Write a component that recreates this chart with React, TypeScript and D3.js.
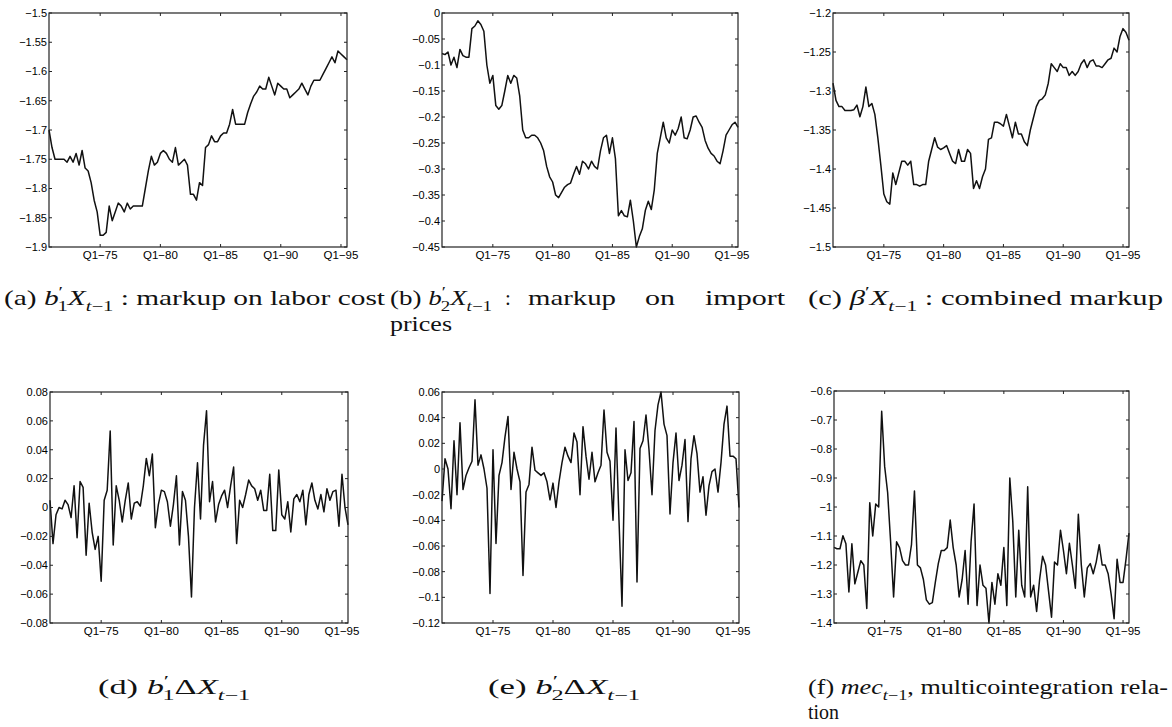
import React, { useEffect, useRef } from 'react';
import * as d3 from 'd3';

// quarterly sample, Q4-1970 .. Q3-1995
const START = 1970.75;
const STEP = 0.25;

const xTickYears = [1975, 1980, 1985, 1990, 1995];
const xTickLabels = ['Q1−75', 'Q1−80', 'Q1−85', 'Q1−90', 'Q1−95'];

// (a) b1'X(t-1): markup on labor cost
const laborMarkup = [
  -1.70, -1.73, -1.75, -1.75, -1.75, -1.75, -1.755, -1.745, -1.755, -1.74,
  -1.76, -1.735, -1.765, -1.77, -1.79, -1.82, -1.84, -1.88, -1.88, -1.875,
  -1.83, -1.855, -1.84, -1.825, -1.83, -1.84, -1.825, -1.835, -1.83, -1.83,
  -1.83, -1.83, -1.80, -1.77, -1.745, -1.76, -1.755, -1.74, -1.735, -1.74,
  -1.75, -1.755, -1.73, -1.76, -1.755, -1.75, -1.76, -1.81, -1.81, -1.82,
  -1.79, -1.795, -1.73, -1.725, -1.71, -1.72, -1.72, -1.71, -1.705, -1.705,
  -1.69, -1.665, -1.69, -1.69, -1.69, -1.69, -1.67, -1.655, -1.642, -1.635,
  -1.625, -1.63, -1.63, -1.61, -1.625, -1.64, -1.62, -1.625, -1.63, -1.63,
  -1.645, -1.64, -1.635, -1.63, -1.62, -1.63, -1.64, -1.625, -1.615, -1.615,
  -1.615, -1.605, -1.595, -1.585, -1.575, -1.585, -1.565, -1.57, -1.575, -1.58,
];

// (b) b2'X(t-1): markup on import prices
const importMarkup = [
  -0.078, -0.08, -0.075, -0.10, -0.085, -0.105, -0.07, -0.082, -0.085, -0.085,
  -0.03, -0.025, -0.015, -0.022, -0.035, -0.10, -0.135, -0.12, -0.178, -0.185,
  -0.178, -0.15, -0.12, -0.135, -0.12, -0.125, -0.16, -0.225, -0.24, -0.24,
  -0.235, -0.235, -0.24, -0.25, -0.265, -0.295, -0.315, -0.325, -0.35, -0.355,
  -0.345, -0.335, -0.33, -0.327, -0.31, -0.295, -0.31, -0.285, -0.29, -0.30,
  -0.285, -0.295, -0.30, -0.265, -0.24, -0.235, -0.27, -0.24, -0.28, -0.39,
  -0.38, -0.39, -0.392, -0.36, -0.40, -0.45, -0.43, -0.415, -0.38, -0.362,
  -0.378, -0.34, -0.27, -0.24, -0.21, -0.24, -0.25, -0.225, -0.235, -0.222,
  -0.20, -0.24, -0.242, -0.225, -0.20, -0.198, -0.21, -0.22, -0.245, -0.26,
  -0.27, -0.275, -0.285, -0.29, -0.265, -0.235, -0.225, -0.215, -0.21, -0.22,
];

// (c) beta'X(t-1): combined markup
const combinedMarkup = [
  -1.29, -1.312, -1.32, -1.32, -1.325, -1.325, -1.325, -1.324, -1.318, -1.333,
  -1.32, -1.295, -1.32, -1.316, -1.33, -1.36, -1.395, -1.432, -1.442, -1.445,
  -1.405, -1.42, -1.405, -1.39, -1.39, -1.395, -1.39, -1.42, -1.42, -1.422,
  -1.42, -1.42, -1.39, -1.375, -1.36, -1.372, -1.375, -1.373, -1.37, -1.38,
  -1.39, -1.393, -1.375, -1.39, -1.39, -1.375, -1.38, -1.425, -1.415, -1.425,
  -1.41, -1.40, -1.362, -1.36, -1.34, -1.34, -1.342, -1.345, -1.33, -1.345,
  -1.36, -1.34, -1.355, -1.355, -1.365, -1.37, -1.35, -1.335, -1.32, -1.312,
  -1.31, -1.305, -1.29, -1.265, -1.27, -1.275, -1.265, -1.27, -1.27, -1.28,
  -1.275, -1.28, -1.275, -1.265, -1.26, -1.27, -1.262, -1.26, -1.268, -1.268,
  -1.27, -1.265, -1.26, -1.258, -1.245, -1.25, -1.23, -1.22, -1.225, -1.235,
];

// (d) b1' dX(t-1)
const laborDiff = [
  0.005, -0.025, -0.005, 0, -0.001, 0.005, 0.002, -0.007, 0.015, -0.021,
  0.018, 0.014, -0.033, 0.003, -0.017, -0.029, -0.02, -0.051, 0.005, 0.012,
  0.053, -0.026, 0.015, 0.005, -0.01, 0.005, 0.017, -0.008, 0.003, 0.004,
  0.001, 0.015, 0.034, 0.022, 0.037, -0.014, 0.002, 0.012, 0.011, 0.004,
  -0.013, 0.002, 0.022, -0.026, 0.011, 0.005, -0.02, -0.062, 0.0, 0.031,
  -0.008, 0.043, 0.067, 0.004, 0.018, -0.01, 0.002, 0.008, 0.012, 0,
  0.015, 0.028, -0.025, 0.005, 0.0, 0.009, 0.019, 0.015, 0.013, 0.005,
  0.012, -0.002, -0.002, 0.023, -0.016, -0.016, 0.026, -0.005, -0.008, 0.004,
  -0.017, 0.006, 0.009, 0.004, 0.012, -0.012, 0.009, 0.017, 0.005, -0.001,
  0.009, -0.003, 0.013, 0.005, 0.011, 0.012, -0.013, 0.023, 0.0, -0.012,
];

// (e) b2' dX(t-1)
const importDiff = [
  -0.025, 0.008, 0.0, -0.031, 0.022, -0.02, 0.036, -0.016, -0.005, 0.001,
  0.006, 0.054, 0.003, 0.011, 0.0, -0.015, -0.097, 0.015, -0.058, -0.005,
  0.005, 0.025, 0.041, -0.016, 0.013, 0.0, -0.01, -0.083, -0.018, -0.012,
  0.017, -0.001, -0.003, -0.005, -0.003, -0.01, -0.024, -0.011, -0.03, -0.01,
  0.005, 0.017, 0.01, 0.005, 0.028, 0.021, -0.02, 0.033, 0.01, -0.008,
  0.013, -0.01, -0.003, 0.003, 0.046, 0.013, 0.006, -0.04, 0.032, -0.04,
  -0.107, 0.015, -0.009, -0.003, 0.037, -0.088, 0.016, 0.022, 0.042, 0.015,
  -0.02, 0.03, 0.05, 0.06, 0.035, 0.026, -0.035, 0.005, 0.028, -0.009,
  0.003, 0.023, -0.041, 0.008, 0.026, 0.012, -0.018, -0.006, -0.036, -0.013,
  -0.002, 0.0, -0.018, 0.005, 0.035, 0.049, 0.01, 0.01, 0.008, -0.03,
];

// (f) mec(t-1), multicointegration relation
const mecRelation = [
  -1.139, -1.144, -1.144, -1.099, -1.127, -1.293, -1.127, -1.265, -1.225, -1.185,
  -1.2, -1.35, -0.985, -1.1, -0.99, -1.0, -0.67, -0.86, -0.95, -1.12,
  -1.31, -1.12, -1.14, -1.185, -1.2, -1.2, -1.13, -0.945, -1.2, -1.21,
  -1.25, -1.32, -1.335, -1.33, -1.26, -1.195, -1.15, -1.15, -1.14, -1.045,
  -1.14, -1.2, -1.31, -1.25, -1.15, -1.335, -1.12, -0.99, -1.34, -1.2,
  -1.27, -1.28, -1.4, -1.26, -1.335, -1.23, -1.27, -1.14, -1.34, -0.9,
  -1.05, -1.31, -1.08, -1.27, -1.31, -0.93, -1.31, -1.27, -1.36, -1.25,
  -1.17, -1.2, -1.29, -1.38, -1.19, -1.2, -1.08, -1.15, -1.23, -1.125,
  -1.2, -1.28, -1.025, -1.2, -1.31, -1.21, -1.195, -1.23, -1.19, -1.13,
  -1.2, -1.2, -1.23, -1.3, -1.385, -1.18, -1.26, -1.26, -1.18, -1.09,
];

const yTicksA = [-1.9, -1.85, -1.8, -1.75, -1.7, -1.65, -1.6, -1.55, -1.5];
const yTicksB = [-0.45, -0.4, -0.35, -0.3, -0.25, -0.2, -0.15, -0.1, -0.05, 0];
const yTicksC = [-1.5, -1.45, -1.4, -1.35, -1.3, -1.25, -1.2];
const yTicksD = [-0.08, -0.06, -0.04, -0.02, 0, 0.02, 0.04, 0.06, 0.08];
const yTicksE = [-0.12, -0.1, -0.08, -0.06, -0.04, -0.02, 0, 0.02, 0.04, 0.06];
const yTicksF = [-1.4, -1.3, -1.2, -1.1, -1, -0.9, -0.8, -0.7, -0.6];

const panels = [
  { data: laborMarkup, ticks: yTicksA, x: 49, y: 13, w: 298, h: 234 },
  { data: importMarkup, ticks: yTicksB, x: 442, y: 13, w: 296, h: 234 },
  { data: combinedMarkup, ticks: yTicksC, x: 833, y: 13, w: 296, h: 234 },
  { data: laborDiff, ticks: yTicksD, x: 50, y: 392, w: 298, h: 231 },
  { data: importDiff, ticks: yTicksE, x: 442, y: 392, w: 297, h: 231 },
  { data: mecRelation, ticks: yTicksF, x: 834, y: 391, w: 295, h: 232 },
];

const fmt = (v: number) => (Math.abs(v) < 1e-9 ? '0' : String(+v.toFixed(3)).replace('-', '−'));

const SERIF = "'Liberation Serif', 'Times New Roman', 'DejaVu Serif Condensed', 'DejaVu Serif', serif";
const SANS = "'Liberation Sans', Arial, Helvetica, sans-serif";
const FS = 21;

type Seg = { t: string; it?: boolean; lv?: number; dx?: number };

const Caption = ({ x, y, segs, len }: { x: number; y: number; segs: Seg[]; len?: number }) => {
  let prev = 0;
  return (
    <text
      x={x}
      y={y}
      fontSize={FS}
      fill="#111"
      textLength={len}
      lengthAdjust={len ? 'spacingAndGlyphs' : undefined}
      style={{ whiteSpace: 'pre', fontFamily: SERIF }}
    >
      {segs.map((s, i) => {
        const off = s.lv === -1 ? FS * 0.28 : s.lv === 1 ? -FS * 0.36 : 0;
        const dy = off - prev;
        prev = off;
        return (
          <tspan key={i} dy={dy || undefined} dx={s.dx} fontStyle={s.it ? 'italic' : undefined} fontSize={s.lv ? FS * 0.7 : undefined}>
            {s.t}
          </tspan>
        );
      })}
    </text>
  );
};

const bPrime = (n: string): Seg[] => [
  { t: 'b', it: true },
  { t: '′', lv: 1 },
  { t: n, lv: -1, dx: -4 },
];
const lag: Seg[] = [
  { t: 't', it: true, lv: -1 },
  { t: '−1', lv: -1 },
];

const App = () => {
  const ref = useRef<SVGGElement>(null);

  useEffect(() => {
    const root = d3.select(ref.current);
    root.selectAll('*').remove();
    panels.forEach((p) => {
      const n = p.data.length;
      const x = d3.scaleLinear().domain([START, START + STEP * (n - 1)]).range([p.x, p.x + p.w]);
      const y = d3.scaleLinear().domain([p.ticks[0], p.ticks[p.ticks.length - 1]]).range([p.y + p.h, p.y]);
      const g = root.append('g');

      const line = d3
        .line<number>()
        .x((_, i) => x(START + STEP * i))
        .y((d) => y(d));
      g.append('path').attr('d', line(p.data)).attr('fill', 'none').attr('stroke', '#111').attr('stroke-width', 1.5).attr('stroke-linejoin', 'round');

      g.append('rect').attr('x', p.x).attr('y', p.y).attr('width', p.w).attr('height', p.h).attr('fill', 'none').attr('stroke', '#222').attr('stroke-width', 1.2);

      // inward ticks, all four sides
      p.ticks.forEach((t) => {
        g.append('line').attr('x1', p.x).attr('x2', p.x + 3).attr('y1', y(t)).attr('y2', y(t)).attr('stroke', '#222');
        g.append('line').attr('x1', p.x + p.w - 3).attr('x2', p.x + p.w).attr('y1', y(t)).attr('y2', y(t)).attr('stroke', '#222');
        g.append('text')
          .attr('x', p.x - 2)
          .attr('y', y(t))
          .attr('dy', '0.35em')
          .attr('text-anchor', 'end')
          .style('font-family', SANS)
          .attr('font-size', 11)
          .attr('fill', '#000')
          .text(fmt(t));
      });
      xTickYears.forEach((yr, i) => {
        g.append('line').attr('x1', x(yr)).attr('x2', x(yr)).attr('y1', p.y + p.h).attr('y2', p.y + p.h - 3).attr('stroke', '#222');
        g.append('line').attr('x1', x(yr)).attr('x2', x(yr)).attr('y1', p.y).attr('y2', p.y + 3).attr('stroke', '#222');
        g.append('text')
          .attr('x', x(yr))
          .attr('y', p.y + p.h + 12)
          .attr('text-anchor', 'middle')
          .style('font-family', SANS)
          .attr('font-size', 11.5)
          .attr('fill', '#000')
          .text(xTickLabels[i]);
      });
    });
  }, []);

  return (
    <svg width={1172} height={727} style={{ position: 'absolute', left: 0, top: 0, background: '#fff' }}>
      <g ref={ref} />
      <Caption x={4} y={305} len={381} segs={[{ t: '(a) ' }, ...bPrime('1'), { t: 'X', it: true }, ...lag, { t: ' : markup on labor cost' }]} />
      <Caption x={390} y={305} len={102} segs={[{ t: '(b) ' }, ...bPrime('2'), { t: 'X', it: true }, ...lag]} />
      <Caption x={505} y={305} segs={[{ t: ':' }]} />
      <Caption x={528} y={305} len={88} segs={[{ t: 'markup' }]} />
      <Caption x={645} y={305} len={30} segs={[{ t: 'on' }]} />
      <Caption x={705} y={305} len={80} segs={[{ t: 'import' }]} />
      <Caption x={390} y={331} len={62} segs={[{ t: 'prices' }]} />
      <Caption x={808} y={305} len={355} segs={[{ t: '(c) ' }, { t: 'β', it: true }, { t: '′', lv: 1 }, { t: 'X', it: true }, ...lag, { t: ' : combined markup' }]} />
      <Caption x={98} y={694} len={152} segs={[{ t: '(d) ' }, ...bPrime('1'), { t: 'Δ' }, { t: 'X', it: true }, ...lag]} />
      <Caption x={488} y={694} len={152} segs={[{ t: '(e) ' }, ...bPrime('2'), { t: 'Δ' }, { t: 'X', it: true }, ...lag]} />
      <Caption x={808} y={694} len={360} segs={[{ t: '(f) ' }, { t: 'mec', it: true }, ...lag, { t: ', multicointegration rela-' }]} />
      <Caption x={808} y={719} len={31} segs={[{ t: 'tion' }]} />
    </svg>
  );
};

export default App;
